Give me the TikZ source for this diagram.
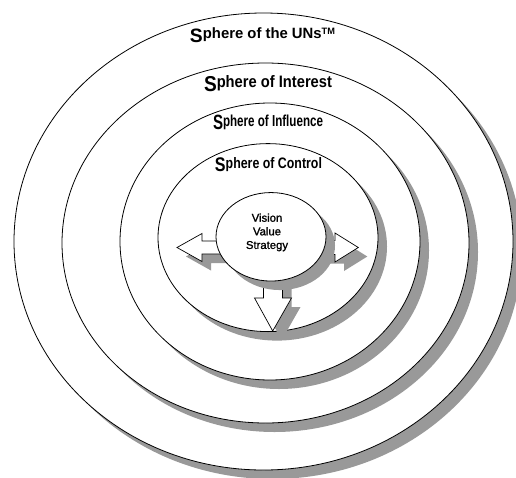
\documentclass[tikz,border=0pt]{standalone}
\usepackage{fontspec}
\setmainfont{Liberation Sans}
\newfontfamily\corefont[FakeBold=1.2]{Liberation Sans}
\usetikzlibrary{shapes.geometric,shadows}
\definecolor{shadegray}{HTML}{999999}
\newcommand\capS{\raisebox{-0.25em}{\scalebox{1.3}{S}}}
\newcommand\tmark{\raisebox{0.27em}{\scalebox{0.62}{TM}}}
\newcommand\arclabel[3]{\resizebox{#1pt}{#2pt}{\bfseries #3}}
\begin{document}
\begin{tikzpicture}[x=1pt,y=-1pt,
  ring/.style={ellipse, draw=black, line width=0.8pt, fill=white, inner sep=0pt,
    drop shadow={shadow xshift=9pt, shadow yshift=-9pt, fill=shadegray, opacity=1, draw=none}},
  lab/.style={anchor=base, inner sep=0pt},
  blk/.style={draw=black, line width=0.7pt, fill=white, line join=miter},
  blkshadow/.style={fill=shadegray}]
\useasboundingbox (0,0) rectangle (516,477);

% spheres
\node[ring, minimum width=499pt, minimum height=457pt] (uns) at (263.5,241.5) {};
\node[ring, minimum width=407pt, minimum height=360pt] (interest) at (265.5,243) {};
\node[ring, minimum width=300pt, minimum height=277pt] (influence) at (270,241.5) {};
\node[ring, minimum width=220pt, minimum height=188pt] (control) at (268,237.6) {};

% labels
\node[lab] (lblUNs) at (262.5,38.3) {\arclabel{145}{10.8}{\capS phere of the UNs\tmark}};
\node[lab] (lblInterest) at (268,87.3) {\arclabel{128}{12}{\capS phere of Interest}};
\node[lab] (lblInfluence) at (268,126) {\arclabel{110}{11.5}{\capS phere of Influence}};
\node[lab] (lblControl) at (268.5,168) {\arclabel{107}{11}{\capS phere of Control}};

% left arrow
\fill[blkshadow, shift={(9,9)}] (177,247.5) -- (202,233.5) -- (202,241) -- (232,241) -- (232,254) -- (202,254) -- (202,261.5) -- cycle;
\draw[blk] (177,247.5) -- (202,233.5) -- (202,241) -- (232,241) -- (232,254) -- (202,254) -- (202,261.5) -- cycle;
% right arrow
\fill[blkshadow, shift={(9,9)}] (358.3,247.5) -- (335,233) -- (335,240.5) -- (310,240.5) -- (310,254.5) -- (335,254.5) -- (335,262) -- cycle;
\draw[blk] (358.3,247.5) -- (335,233) -- (335,240.5) -- (310,240.5) -- (310,254.5) -- (335,254.5) -- (335,262) -- cycle;
% down arrow
\fill[blkshadow, shift={(9,9)}] (272.7,331) -- (254.5,298) -- (263.5,298) -- (263.5,270) -- (282.5,270) -- (282.5,298) -- (291.5,298) -- cycle;
\draw[blk] (272.7,331) -- (254.5,298) -- (263.5,298) -- (263.5,270) -- (282.5,270) -- (282.5,298) -- (291.5,298) -- cycle;

% core
\node[ring, minimum width=110pt, minimum height=88.5pt] (core) at (271,236.8) {};
\node[font=\corefont\fontsize{11.3}{13.6}\selectfont, align=center, inner sep=0pt] (coretext) at (267,232.4) {Vision\\Value\\Strategy};
\end{tikzpicture}
\end{document}
